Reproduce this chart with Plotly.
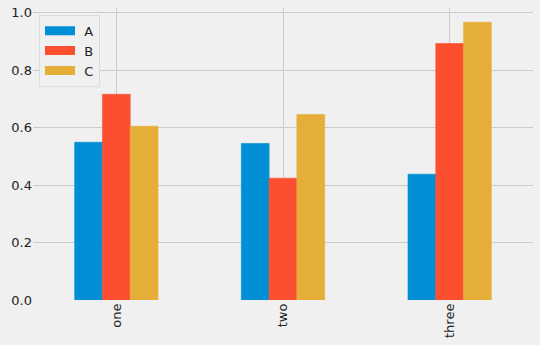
import plotly.graph_objects as go

# Column values per row label
categories = ["one", "two", "three"]
series_names = ["A", "B", "C"]
values_a = [0.549, 0.545, 0.438]
values_b = [0.716, 0.424, 0.893]
values_c = [0.605, 0.646, 0.967]
y_ticks = [0.0, 0.2, 0.4, 0.6, 0.8, 1.0]
y_tick_text = ["0.0", "0.2", "0.4", "0.6", "0.8", "1.0"]

colors = ["#008fd5", "#fc4f30", "#e5ae38"]
bg = "#f0f0f0"
grid = "#cbcbcb"
font_family = "DejaVu Sans"

fig = go.Figure()
for name, vals, col in zip(series_names, [values_a, values_b, values_c], colors):
    fig.add_trace(go.Bar(
        x=categories, y=vals, name=name,
        marker=dict(color=col, line=dict(width=0.6, color=col)),
        showlegend=False,
    ))
    # wide rectangular legend swatch
    fig.add_trace(go.Scatter(
        x=[None], y=[None], mode="lines", name="\u00a0" + name,
        line=dict(color=col, width=9), showlegend=True,
    ))

fig.update_layout(
    width=540, height=345,
    margin=dict(l=33, r=7, t=8, b=45, pad=0),
    paper_bgcolor=bg, plot_bgcolor=bg,
    barmode="group", bargap=0.5, bargroupgap=0,
    font=dict(family=font_family, size=13, color="#222222"),
    showlegend=True,
    legend=dict(
        x=0.012, y=0.977, xanchor="left", yanchor="top",
        bgcolor=bg, bordercolor="#dcdcdc", borderwidth=1,
        font=dict(size=13), itemwidth=30, tracegroupgap=0,
    ),
)
fig.update_xaxes(
    type="category", range=[-0.5, 2.5], automargin=False,
    showgrid=True, gridcolor=grid, gridwidth=1,
    showline=False, zeroline=False, ticks="", tickangle=-90,
    tickfont=dict(size=13),
)
fig.update_yaxes(
    range=[0, 1.0165], tickvals=y_ticks, ticktext=y_tick_text, automargin=False,
    showgrid=True, gridcolor=grid, gridwidth=1,
    zeroline=True, zerolinecolor=bg, zerolinewidth=1,
    showline=False, ticks="", tickfont=dict(size=13),
)

fig.write_html("out.html")
